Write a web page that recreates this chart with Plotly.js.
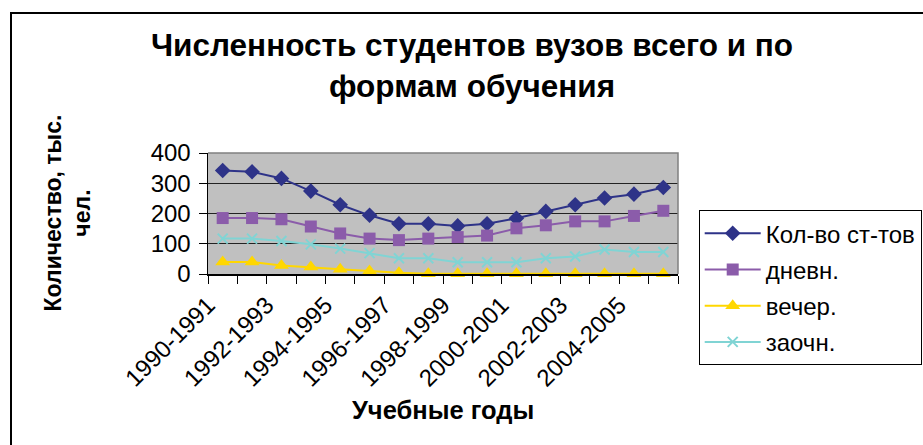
<!DOCTYPE html>
<html>
<head>
<meta charset="utf-8">
<script src="https://cdn.plot.ly/plotly-3.0.1.min.js"></script>
<style>
  html, body { margin: 0; padding: 0; background: #fff; overflow: hidden; }
  #wrap { position: relative; width: 923px; height: 445px; overflow: hidden; }
  #chart { position: absolute; left: 0; top: 0; width: 923px; height: 445px; }
  #frame { position: absolute; left: 10px; top: 12px; width: 1000px; height: 1000px;
           border-left: 2px solid #000; border-top: 2px solid #000; pointer-events: none; }
</style>
</head>
<body>
<div id="wrap">
  <div id="chart"></div>
  <div id="frame"></div>
</div>
<script>
// ---- data ----
const categories = ["1990-1991","1991-1992","1992-1993","1993-1994","1994-1995","1995-1996",
  "1996-1997","1997-1998","1998-1999","1999-2000","2000-2001","2001-2002","2002-2003",
  "2003-2004","2004-2005","2005-2006"];
const seriesNames = ["Кол-во ст-тов", "дневн.", "вечер.", "заочн."];
const total   = [342, 338, 316, 274, 229, 194, 166, 166, 159, 166, 184, 207, 229, 251, 264, 286];
const daytime = [185, 185, 181, 157, 134, 117, 112, 117, 122, 127, 151, 161, 174, 174, 192, 209];
const evening = [40, 40, 28, 23, 16, 10, 4, 1, 1, 1, 1, 1, 1, 1, 1, 1];
const extramural = [117, 117, 109, 98, 84, 69, 52, 52, 39, 39, 39, 52, 58, 81, 73, 73];
const yTicks = [0, 100, 200, 300, 400];
const chartTitle = "Численность студентов вузов всего и по<br>формам обучения";
const xTitle = "Учебные годы";
const yTitle = "Количество, тыс.<br>чел.";

// ---- build ----
const idx = categories.map((c, i) => i);
const labelIdx = idx.filter(i => i % 2 === 0);
const LABEL_SHIFT = -0.5;   // Excel draws the rotated labels ending at the left category boundary
const FONT = "Liberation Sans, Arial, sans-serif";

const styles = [
  {color: "#2E3388", symbol: "diamond", size: 12},
  {color: "#8B5CAA", symbol: "square", size: 12},
  {color: "#FFD700", symbol: "triangle-up", size: 13},
  {color: "#80D4D4", symbol: "x-thin", size: 10}
];
const values = [total, daytime, evening, extramural];

const traces = values.map((vals, k) => {
  const s = styles[k];
  const marker = {symbol: s.symbol, size: s.size, color: s.color};
  if (s.symbol === "x-thin") marker.line = {color: s.color, width: 2};
  return {
    type: "scatter", mode: "lines+markers",
    x: idx, y: vals, name: seriesNames[k], legendgroup: "g" + k,
    line: {color: s.color, width: 2},
    marker: marker,
    cliponaxis: false
  };
});

const layout = {
  width: 923, height: 445,
  margin: {l: 208, r: 245, t: 153, b: 171, autoexpand: false},
  paper_bgcolor: "rgba(0,0,0,0)",
  plot_bgcolor: "#C0C0C0",
  font: {family: FONT, color: "#000", size: 22},
  title: {
    text: chartTitle,
    font: {family: FONT, size: 31.5, weight: "bold", color: "#000"},
    x: 472 / 923, xref: "container", xanchor: "center",
    y: 1 - 56 / 445, yref: "container", yanchor: "middle"
  },
  xaxis: {
    range: [-0.5, categories.length - 0.5],
    tickmode: "array",
    tickvals: labelIdx.map(i => i + LABEL_SHIFT),
    ticktext: labelIdx.map(i => categories[i]),
    tickangle: -45,
    ticks: "outside", ticklen: 8, tickcolor: "#000", tickwidth: 1,
    tickfont: {family: FONT, size: 24, color: "#000"},
    ticklabelstandoff: -2,
    minor: {tickmode: "linear", tick0: -0.5, dtick: 1, ticks: "outside", ticklen: 8,
            tickcolor: "#000", tickwidth: 1, showgrid: false},
    showgrid: false, zeroline: false,
    showline: true, linecolor: "#000", linewidth: 1.5,
    automargin: false,
    fixedrange: true
  },
  yaxis: {
    range: [0, 400],
    tickmode: "array", tickvals: yTicks, ticktext: yTicks.map(String),
    ticks: "outside", ticklen: 8, tickcolor: "#000", tickwidth: 1,
    tickfont: {family: FONT, size: 24, color: "#000"},
    ticklabelstandoff: 3,
    showgrid: true, gridcolor: "#222", gridwidth: 1,
    zeroline: false,
    showline: true, linecolor: "#000", linewidth: 1.5,
    automargin: false,
    fixedrange: true
  },
  shapes: [{
    type: "path", xref: "paper", yref: "paper",
    path: "M0,1 L1,1 L1,0",
    line: {color: "#808080", width: 1.5}, layer: "above"
  }],
  annotations: [
    {text: "<b>" + xTitle + "</b>", xref: "paper", yref: "paper",
     x: 0.5, y: (274.3 - 410) / 121, xanchor: "center", yanchor: "middle",
     showarrow: false, font: {family: FONT, size: 25.5, color: "#000"}},
    {text: "<b>" + yTitle + "</b>", xref: "paper", yref: "paper",
     x: (67 - 208) / 470, y: 0.5, xanchor: "center", yanchor: "middle",
     textangle: -90, showarrow: false, font: {family: FONT, size: 23, color: "#000"}}
  ],
  showlegend: true,
  legend: {
    x: (698.7 - 208) / 470, y: (274.3 - 210.5) / 121,
    xanchor: "left", yanchor: "top",
    bgcolor: "#fff", bordercolor: "#000", borderwidth: 1,
    font: {family: FONT, size: 24, color: "#000"},
    itemwidth: 56,
    tracegroupgap: 2,
    maxheight: 300
  }
};

Plotly.newPlot("chart", traces, layout, {staticPlot: true, displayModeBar: false});
</script>
</body>
</html>
